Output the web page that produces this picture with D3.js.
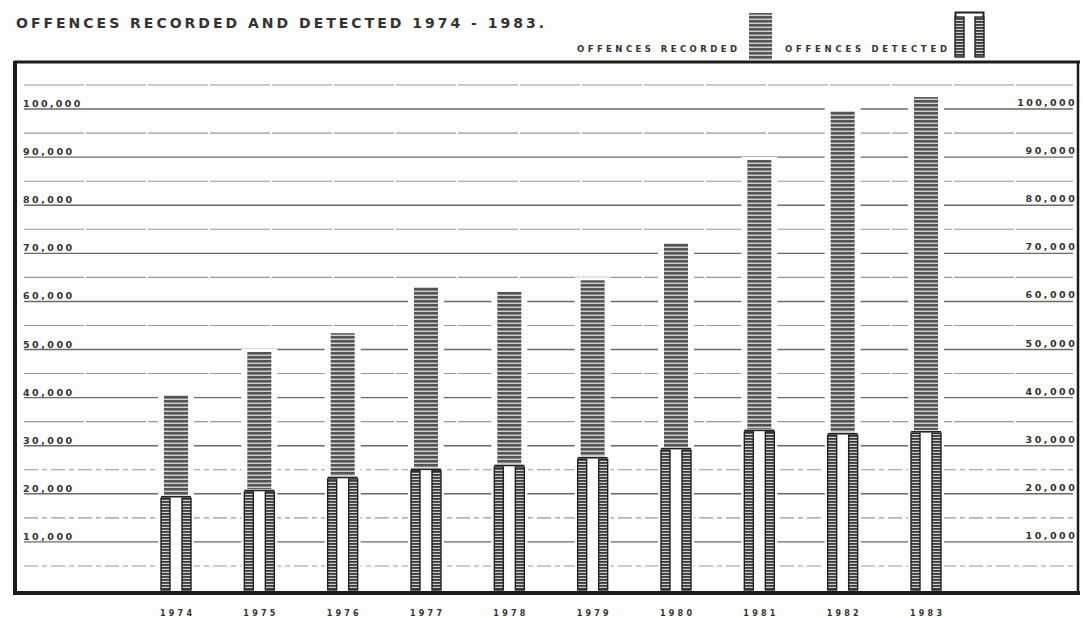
<!DOCTYPE html>
<html>
<head>
<meta charset="utf-8">
<script src="https://cdn.jsdelivr.net/npm/d3@7"></script>
<style>
  body { margin: 0; background: #fdfdfb; }
  svg { display: block; }
  text { font-family: "DejaVu Sans", sans-serif; font-weight: bold; fill: #333; }
</style>
</head>
<body>
<svg id="chart" width="1083" height="618"></svg>
<script>
// values
const years = [1974, 1975, 1976, 1977, 1978, 1979, 1980, 1981, 1982, 1983];
const recorded = [40500, 49500, 53400, 63000, 62000, 64400, 72100, 89400, 99600, 102500];
const detected = [19500, 20800, 23500, 25200, 26000, 27600, 29500, 33300, 32600, 33000];
const tickValues = [10000, 20000, 30000, 40000, 50000, 60000, 70000, 80000, 90000, 100000];
const tickLabels = ["10,000", "20,000", "30,000", "40,000", "50,000", "60,000", "70,000", "80,000", "90,000", "100,000"];

const svg = d3.select("#chart");

const y = d3.scaleLinear().domain([0, 105000]).range([590, 85]);
const x = d3.scalePoint().domain(years).range([176, 926]);

// patterns
const defs = svg.append("defs");
const rp = defs.append("pattern").attr("id", "recPat")
    .attr("patternUnits", "userSpaceOnUse").attr("width", 4).attr("height", 4);
rp.append("rect").attr("width", 4).attr("height", 4).attr("fill", "#d2d2d2");
rp.append("rect").attr("width", 4).attr("height", 2.6).attr("fill", "#555");

const lp = defs.append("pattern").attr("id", "legPat")
    .attr("patternUnits", "userSpaceOnUse").attr("width", 3).attr("height", 3);
lp.append("rect").attr("width", 3).attr("height", 3).attr("fill", "#cfcfcf");
lp.append("rect").attr("width", 3).attr("height", 1.8).attr("fill", "#3a3a3a");

// title
svg.append("text")
    .attr("x", 16).attr("y", 28)
    .attr("font-size", 14)
    .attr("textLength", 528).attr("lengthAdjust", "spacing")
    .text("OFFENCES RECORDED AND DETECTED 1974 - 1983.");

// legend
svg.append("text").attr("x", 577).attr("y", 52).attr("font-size", 8.5)
    .attr("textLength", 160).attr("lengthAdjust", "spacing")
    .text("OFFENCES RECORDED");
svg.append("rect").attr("x", 749).attr("y", 13).attr("width", 23).attr("height", 47)
    .attr("fill", "url(#recPat)");
svg.append("text").attr("x", 785).attr("y", 52).attr("font-size", 8.5)
    .attr("textLength", 162).attr("lengthAdjust", "spacing")
    .text("OFFENCES DETECTED");
const lg = svg.append("g");
lg.append("rect").attr("x", 955).attr("y", 17).attr("width", 9).attr("height", 40)
    .attr("fill", "url(#legPat)").attr("stroke", "#222").attr("stroke-width", 1.4);
lg.append("rect").attr("x", 975).attr("y", 17).attr("width", 9).attr("height", 40)
    .attr("fill", "url(#legPat)").attr("stroke", "#222").attr("stroke-width", 1.4);
lg.append("path").attr("d", "M955.5,17 L955.5,12.5 L983.5,12.5 L983.5,17")
    .attr("fill", "none").attr("stroke", "#222").attr("stroke-width", 2);

// grid lines every 5,000
const gridValues = y.ticks(21).filter(v => v > 0);
svg.append("g").selectAll("line").data(gridValues).join("line")
    .attr("x1", 24).attr("x2", 1073)
    .attr("y1", d => y(d)).attr("y2", d => y(d))
    .attr("stroke", d => d % 10000 === 0 ? "#6a6a6a" : "#999")
    .attr("stroke-width", d => d % 10000 === 0 ? 1.4 : 1.1)
    .attr("stroke-dasharray", d => d % 10000 === 0 ? null : (d < 30000 ? "14 4 5 4" : "60 2"));

// tick labels both sides
svg.append("g").selectAll("text").data(tickValues).join("text")
    .attr("x", 23).attr("y", d => y(d) - 2)
    .attr("font-size", 9.5)
    .attr("textLength", (d, i) => tickLabels[i].length * 8.2).attr("lengthAdjust", "spacing")
    .text((d, i) => tickLabels[i]);
svg.append("g").selectAll("text").data(tickValues).join("text")
    .attr("x", (d, i) => 1076 - tickLabels[i].length * 8.4).attr("y", d => y(d) - 3)
    .attr("font-size", 9.5)
    .attr("textLength", (d, i) => tickLabels[i].length * 8.2).attr("lengthAdjust", "spacing")
    .text((d, i) => tickLabels[i]);

// recorded bars
const rw = 24;
const bars = svg.append("g");
bars.selectAll(".gapR").data(years).join("rect")
    .attr("x", d => x(d) - rw / 2 - 6).attr("width", rw + 12)
    .attr("y", (d, i) => y(recorded[i]) - 3).attr("height", (d, i) => y(0) - y(recorded[i]) + 3)
    .attr("fill", "#fdfdfb");
bars.selectAll(".rec").data(years).join("rect")
    .attr("x", d => x(d) - rw / 2).attr("width", rw)
    .attr("y", (d, i) => y(recorded[i])).attr("height", (d, i) => y(0) - y(recorded[i]))
    .attr("fill", "url(#recPat)");

// detected bars: inverted U of two striped legs
const dw = 30, legW = 9;
const det = svg.append("g");
det.selectAll(".gapD").data(years).join("rect")
    .attr("x", d => x(d) - dw / 2 - 1).attr("width", dw + 2)
    .attr("y", (d, i) => y(detected[i]) - 1).attr("height", (d, i) => y(0) - y(detected[i]) + 1)
    .attr("fill", "#fdfdfb");
[0, 1].forEach(side => {
  det.selectAll(".leg" + side).data(years).join("rect")
      .attr("x", d => side === 0 ? x(d) - dw / 2 : x(d) + dw / 2 - legW)
      .attr("width", legW)
      .attr("y", (d, i) => y(detected[i]) + 2)
      .attr("height", (d, i) => y(0) - y(detected[i]) - 2)
      .attr("fill", "url(#legPat)")
      .attr("stroke", "#222").attr("stroke-width", 1.4);
});
det.selectAll(".cap").data(years).join("line")
    .attr("x1", d => x(d) - dw / 2).attr("x2", d => x(d) + dw / 2)
    .attr("y1", (d, i) => y(detected[i]) + 0.5).attr("y2", (d, i) => y(detected[i]) + 0.5)
    .attr("stroke", "#222").attr("stroke-width", 1.6);

// year labels
svg.append("g").selectAll("text").data(years).join("text")
    .attr("x", d => x(d)).attr("y", 616)
    .attr("text-anchor", "middle").attr("font-size", 8)
    .attr("textLength", 32).attr("lengthAdjust", "spacing")
    .text(d => d);

// frame
const frame = svg.append("g").attr("stroke", "#1c1c1c").attr("fill", "none");
frame.append("line").attr("x1", 14).attr("x2", 1080).attr("y1", 62).attr("y2", 62).attr("stroke-width", 3);
frame.append("line").attr("x1", 15).attr("x2", 15).attr("y1", 61).attr("y2", 595).attr("stroke-width", 4);
frame.append("line").attr("x1", 14).attr("x2", 1080).attr("y1", 593).attr("y2", 593).attr("stroke-width", 4);
frame.append("line").attr("x1", 1078).attr("x2", 1078).attr("y1", 61).attr("y2", 595).attr("stroke-width", 2.5);
</script>
</body>
</html>
